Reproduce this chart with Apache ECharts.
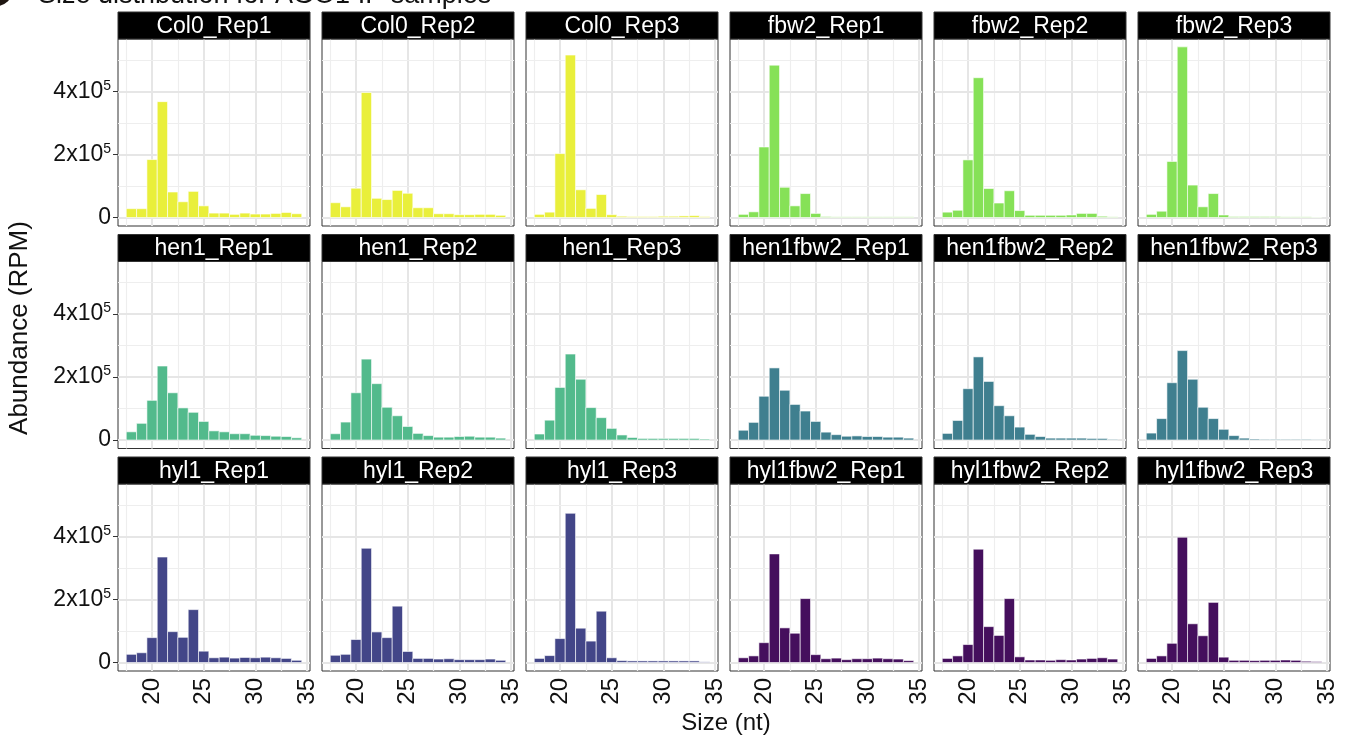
<!DOCTYPE html>
<html><head><meta charset="utf-8">
<script src="https://cdn.jsdelivr.net/npm/echarts@6/dist/echarts.min.js"></script>
<style>html,body{margin:0;padding:0;background:#ffffff}#c{width:1347px;height:737px}</style>
</head><body><div id="c"></div>
<script>
// ---------- data ----------
const sizes = [18,19,20,21,22,23,24,25,26,27,28,29,30,31,32,33,34];
const sampleNames = [
  'Col0_Rep1','Col0_Rep2','Col0_Rep3','fbw2_Rep1','fbw2_Rep2','fbw2_Rep3',
  'hen1_Rep1','hen1_Rep2','hen1_Rep3','hen1fbw2_Rep1','hen1fbw2_Rep2','hen1fbw2_Rep3',
  'hyl1_Rep1','hyl1_Rep2','hyl1_Rep3','hyl1fbw2_Rep1','hyl1fbw2_Rep2','hyl1fbw2_Rep3'
];
const sampleGenotype = [0,0,0,1,1,1,2,2,2,3,3,3,4,4,4,5,5,5];
const genotypes = ['Col0','fbw2','hen1','hen1fbw2','hyl1','hyl1fbw2'];
const genotypeColors = ['#E9EF3B','#86E157','#52BA8C','#3F7F8F','#434688','#450F5D'];

const Col0_Rep1 = [28000,28000,184000,368000,81000,50000,83000,37000,14000,14000,10000,14000,11000,11000,13000,16000,12000];
const Col0_Rep2 = [47000,34000,93000,397000,61000,57000,86000,77000,31000,31000,12000,12000,9000,9000,10000,10000,7000];
const Col0_Rep3 = [10000,17000,203000,516000,88000,29000,73000,9000,4000,3000,3000,3000,4000,4000,5000,6000,3000];
const fbw2_Rep1 = [10000,18000,224000,484000,96000,37000,76000,13000,3000,2000,2000,2000,2000,2000,2000,2000,2000];
const fbw2_Rep2 = [17000,23000,183000,444000,92000,46000,85000,22000,7000,7000,7000,7000,8000,13000,13000,4000,2000];
const fbw2_Rep3 = [10000,20000,178000,542000,103000,34000,76000,8000,3000,3000,3000,3000,3000,2000,2000,2000,1000];
const hen1_Rep1 = [26000,53000,126000,235000,150000,102000,88000,59000,29000,26000,20000,20000,15000,14000,12000,11000,7000];
const hen1_Rep2 = [20000,57000,150000,257000,179000,104000,77000,43000,21000,14000,9000,9000,11000,12000,9000,9000,6000];
const hen1_Rep3 = [19000,63000,167000,273000,193000,103000,71000,37000,16000,8000,5000,5000,5000,5000,5000,5000,3000];
const hen1fbw2_Rep1 = [31000,56000,139000,229000,158000,113000,92000,59000,25000,17000,12000,13000,11000,11000,9000,9000,6000];
const hen1fbw2_Rep2 = [21000,62000,163000,264000,186000,109000,77000,41000,18000,11000,6000,6000,6000,6000,5000,5000,2000];
const hen1fbw2_Rep3 = [22000,68000,182000,284000,193000,104000,68000,34000,14000,6000,3000,2000,2000,2000,2000,2000,1000];
const hyl1_Rep1 = [26000,31000,79000,335000,98000,80000,168000,36000,15000,17000,14000,16000,15000,17000,15000,13000,7000];
const hyl1_Rep2 = [23000,26000,73000,363000,97000,79000,179000,35000,13000,13000,11000,12000,9000,9000,9000,11000,7000];
const hyl1_Rep3 = [13000,22000,76000,474000,109000,68000,163000,15000,6000,5000,5000,5000,5000,5000,5000,5000,2000];
const hyl1fbw2_Rep1 = [15000,21000,63000,345000,110000,93000,203000,25000,12000,14000,9000,12000,12000,14000,12000,11000,6000];
const hyl1fbw2_Rep2 = [13000,21000,57000,360000,114000,86000,203000,18000,8000,8000,7000,9000,8000,11000,13000,15000,11000];
const hyl1fbw2_Rep3 = [13000,21000,61000,398000,123000,85000,191000,17000,7000,7000,6000,7000,7000,8000,7000,4000,3000];

const abundance = [
  Col0_Rep1, Col0_Rep2, Col0_Rep3, fbw2_Rep1, fbw2_Rep2, fbw2_Rep3,
  hen1_Rep1, hen1_Rep2, hen1_Rep3, hen1fbw2_Rep1, hen1fbw2_Rep2, hen1fbw2_Rep3,
  hyl1_Rep1, hyl1_Rep2, hyl1_Rep3, hyl1fbw2_Rep1, hyl1fbw2_Rep2, hyl1fbw2_Rep3
];

const xTickValues = [20,25,30,35];
const xMinorValues = [17.5,22.5,27.5,32.5];
const yTickValues = [0,200000,400000];
const yMinorValues = [100000,300000,500000];

const titleText = 'Size distribution for AGO1 IP samples';
const xAxisTitle = 'Size (nt)';
const yAxisTitle = 'Abundance (RPM)';

// ---------- layout ----------
const FONT = '"Liberation Sans", Arial, Helvetica, sans-serif';
const colLeft = [118, 322, 526, 730, 934, 1138];
const panelW = 192;
const stripTop = [12, 234.5, 457];
const stripH = 27;
const plotH = 187;
const X_MIN = 16.7, X_MAX = 35.3;
const Y_MIN = -27000, Y_MAX = 567000;

function yLabel(v) {
  if (v === 0) return '{n|0}';
  return '{n|' + (v / 100000) + 'x10}{s|5}';
}

const grids = [], xAxes = [], yAxes = [], series = [], graphics = [];

sampleNames.forEach((name, i) => {
  const r = Math.floor(i / 6), c = i % 6;
  const color = genotypeColors[sampleGenotype[i]];
  grids.push({
    left: colLeft[c], top: stripTop[r] + stripH, width: panelW, height: plotH,
    show: true, backgroundColor: '#ffffff', borderColor: '#333333', borderWidth: 1
  });
  xAxes.push({
    gridIndex: i, type: 'value', min: X_MIN, max: X_MAX,
    axisLine: { show: false }, splitLine: { show: false },
    axisTick: { show: r === 2, customValues: xTickValues, length: 5, lineStyle: { color: '#333333', width: 1 } },
    axisLabel: { show: r === 2, customValues: xTickValues, rotate: 90, margin: 7,
      fontSize: 24, color: '#111111', fontFamily: FONT }
  });
  yAxes.push({
    gridIndex: i, type: 'value', min: Y_MIN, max: Y_MAX,
    axisLine: { show: false }, splitLine: { show: false },
    axisTick: { show: c === 0, customValues: yTickValues, length: 5, lineStyle: { color: '#333333', width: 1 } },
    axisLabel: { show: c === 0, customValues: yTickValues, margin: 7, formatter: yLabel,
      rich: {
        n: { fontSize: 23, color: '#111111', fontFamily: FONT, lineHeight: 25 },
        s: { fontSize: 14, color: '#111111', fontFamily: FONT, verticalAlign: 'top', lineHeight: 14, padding: [0, 0, 11, 0] }
      } }
  });
  const gridLines = []
    .concat(xTickValues.map(v => ({ xAxis: v, lineStyle: { color: '#E6E6E6', width: 2, type: 'solid' } })))
    .concat(xMinorValues.map(v => ({ xAxis: v, lineStyle: { color: '#EEEEEE', width: 1.2, type: 'solid' } })))
    .concat(yTickValues.map(v => ({ yAxis: v, lineStyle: { color: '#E6E6E6', width: 2, type: 'solid' } })))
    .concat(yMinorValues.map(v => ({ yAxis: v, lineStyle: { color: '#EEEEEE', width: 1.2, type: 'solid' } })));
  series.push({
    type: 'custom', name: name, xAxisIndex: i, yAxisIndex: i, z: 3,
    data: sizes.map((s, k) => [s, abundance[i][k]]),
    encode: { x: 0, y: 1 },
    renderItem: (params, api) => {
      const x = api.value(0), y = api.value(1);
      const p0 = api.coord([x - 0.5, y]);
      const p1 = api.coord([x + 0.5, 0]);
      return {
        type: 'rect',
        shape: { x: p0[0], y: p0[1], width: p1[0] - p0[0], height: p1[1] - p0[1] },
        style: { fill: color, stroke: 'rgba(255,255,255,0.75)', lineWidth: 0.8 }
      };
    },
    markLine: {
      silent: true, z: 1, symbol: ['none', 'none'], label: { show: false },
      animation: false, emphasis: { disabled: true }, data: gridLines
    }
  });
  graphics.push({
    type: 'rect', silent: true, z: 10,
    shape: { x: colLeft[c], y: stripTop[r], width: panelW, height: stripH },
    style: { fill: '#000000', stroke: '#333333', lineWidth: 1 }
  });
  graphics.push({
    type: 'text', silent: true, z: 11,
    x: colLeft[c] + panelW / 2, y: stripTop[r] + stripH / 2 + 1,
    style: { text: name, fill: '#ffffff', fontSize: 23, fontFamily: FONT,
      textAlign: 'center', textVerticalAlign: 'middle' }
  });
});

graphics.push({
  type: 'circle', silent: true, z: 10,
  shape: { cx: -3, cy: -9, r: 15 }, style: { fill: '#1e1611' }
});
graphics.push({
  type: 'text', silent: true, z: 10, x: 38, y: -4,
  style: { text: titleText, fill: '#111111', fontSize: 27, fontFamily: FONT,
    textAlign: 'left', textVerticalAlign: 'middle' }
});
graphics.push({
  type: 'text', silent: true, z: 10, x: 726, y: 723,
  style: { text: xAxisTitle, fill: '#111111', fontSize: 24, fontFamily: FONT,
    textAlign: 'center', textVerticalAlign: 'middle' }
});
graphics.push({
  type: 'text', silent: true, z: 10, x: 20, y: 328, rotation: Math.PI / 2,
  style: { text: yAxisTitle, fill: '#111111', fontSize: 26, fontFamily: FONT,
    textAlign: 'center', textVerticalAlign: 'middle' }
});

const chart = echarts.init(document.getElementById('c'), null, { renderer: 'canvas' });
chart.setOption({
  backgroundColor: '#ffffff',
  animation: false,
  grid: grids,
  xAxis: xAxes,
  yAxis: yAxes,
  series: series,
  graphic: graphics
});
</script>
</body></html>
